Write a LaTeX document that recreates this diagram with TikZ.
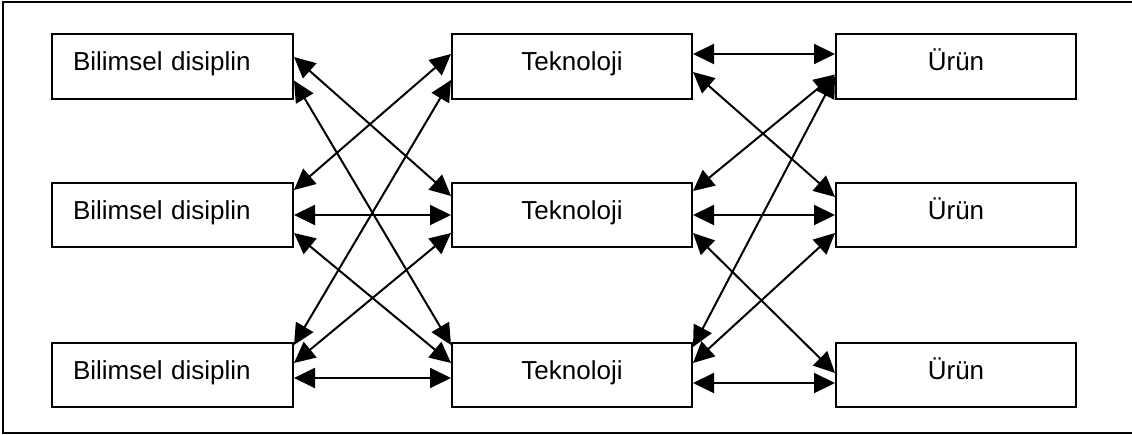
\documentclass[tikz,border=0pt]{standalone}
\usepackage{fontspec}
\setmainfont{Liberation Sans}
\usetikzlibrary{arrows.meta}
\begin{document}
\begin{tikzpicture}[x=1pt,y=-1pt,
  box/.style={draw,line width=2pt,minimum width=241pt,minimum height=64.5pt,inner ysep=2pt,
    font=\fontsize{26}{30}\selectfont,text height=18pt,text depth=9pt},
  lbox/.style={box,text width=199pt,inner xsep=21pt,align=left},
  arr/.style={line width=2pt,{Triangle[length=21pt,width=20pt]}-{Triangle[length=21pt,width=20pt]}},
  frame/.style={line width=2pt}]
\useasboundingbox (0,0) rectangle (1132,435);
\draw[frame] (1132,2.5) -- (3,2.5) -- (3,433) -- (1132,433);
% nodes
\node[lbox] (L1) at (172.5,66.5) {Bilimsel disiplin};
\node[lbox] (L2) at (172.5,215) {Bilimsel disiplin};
\node[lbox] (L3) at (172.5,375) {Bilimsel disiplin};
\node[box,minimum width=240pt] (M1) at (572,66.5) {Teknoloji};
\node[box,minimum width=240pt] (M2) at (572,215) {Teknoloji};
\node[box,minimum width=240pt] (M3) at (572,375) {Teknoloji};
\node[box,minimum width=240pt] (R1) at (956,66.5) {Ürün};
\node[box,minimum width=240pt] (R2) at (956,215) {Ürün};
\node[box,minimum width=240pt] (R3) at (956,375) {Ürün};
% left to middle
\draw[arr] ([yshift=9.5pt]L1.east) -- ([yshift=19pt]M2.west);
\draw[arr] ([yshift=-14pt]L1.east) -- ([yshift=30pt]M3.west);
\draw[arr] ([yshift=12.5pt]M1.west) -- ([yshift=25pt]L2.east);
\draw[arr] ([yshift=-13.5pt]M1.west) -- ([yshift=30pt]L3.east);
\draw[arr] (L2.east) -- (M2.west);
\draw[arr] ([yshift=-18pt]L2.east) -- ([yshift=12pt]M3.west);
\draw[arr] ([yshift=-18pt]M2.west) -- ([yshift=12pt]L3.east);
\draw[arr] ([yshift=-3pt]L3.east) -- ([yshift=-3pt]M3.west);
% middle to right
\draw[arr] ([yshift=12.5pt]M1.east) -- ([yshift=12.5pt]R1.west);
\draw[arr] ([yshift=-5.5pt]M1.east) -- ([yshift=18pt]R2.west);
\draw[arr] ([yshift=-8pt]R1.west) -- ([yshift=24pt]M2.east);
\draw[arr] ([yshift=-10pt]R1.west) -- ([yshift=28pt]M3.east);
\draw[arr] (M2.east) -- (R2.west);
\draw[arr] ([yshift=-18pt]M2.east) -- ([yshift=2pt]R3.west);
\draw[arr] ([yshift=-18pt]R2.west) -- ([yshift=12pt]M3.east);
\draw[arr] ([yshift=-8pt]M3.east) -- ([yshift=-8pt]R3.west);
\end{tikzpicture}
\end{document}
